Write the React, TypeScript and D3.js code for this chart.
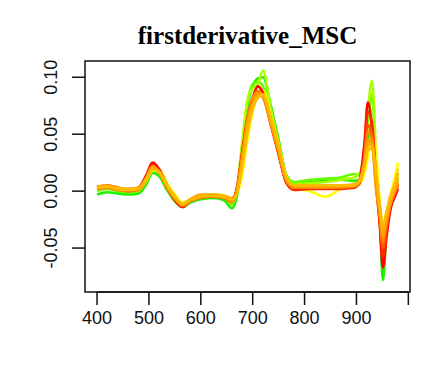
import React from 'react';
import * as d3 from 'd3';

// wavelengths (nm) shared by every spectrum
const wavelengths = [
    400, 420, 440, 460, 480, 495, 507, 520, 535, 550, 565, 580, 600, 625, 645, 660, 670, 680, 690, 700,
    710, 720, 735, 750, 765, 780, 810, 840, 870, 895, 905, 915, 922, 930, 938, 945, 951, 958, 966, 974, 980,
];

// first derivative after MSC, one array per sample
const green1 = [-0.003, -0.001, -0.002, -0.003, -0.002, 0.006, 0.016, 0.013, 0.001, -0.009, -0.014, -0.010, -0.007, -0.006, -0.008, -0.015, -0.004, 0.035, 0.075, 0.092, 0.099, 0.100, 0.075, 0.045, 0.014, 0.007, 0.008, 0.009, 0.010, 0.009, 0.010, 0.020, 0.040, 0.060, 0.010, -0.025, -0.078, -0.035, -0.012, -0.002, 0.005];
const green2 = [0.000, 0.002, 0.000, -0.001, 0.000, 0.009, 0.019, 0.016, 0.003, -0.007, -0.012, -0.008, -0.005, -0.004, -0.006, -0.012, 0.000, 0.040, 0.078, 0.094, 0.096, 0.092, 0.068, 0.040, 0.013, 0.008, 0.010, 0.011, 0.012, 0.015, 0.014, 0.030, 0.060, 0.085, 0.020, -0.015, -0.050, -0.028, -0.008, 0.002, 0.010];
const green3 = [0.001, 0.003, 0.001, 0.000, 0.001, 0.010, 0.020, 0.017, 0.004, -0.006, -0.011, -0.007, -0.004, -0.003, -0.005, -0.010, 0.003, 0.045, 0.080, 0.090, 0.094, 0.106, 0.072, 0.042, 0.012, 0.006, 0.007, 0.008, 0.010, 0.012, 0.015, 0.035, 0.070, 0.097, 0.030, -0.012, -0.035, -0.022, -0.005, 0.006, 0.015];
const yellow1 = [0.002, 0.003, 0.002, 0.001, 0.002, 0.009, 0.018, 0.018, 0.007, -0.003, -0.010, -0.008, -0.004, -0.003, -0.004, -0.007, -0.002, 0.015, 0.045, 0.070, 0.085, 0.088, 0.066, 0.040, 0.012, 0.003, 0.000, -0.005, 0.002, 0.004, 0.006, 0.015, 0.030, 0.050, 0.035, -0.012, -0.030, -0.018, -0.002, 0.012, 0.025];
const yellow2 = [0.003, 0.004, 0.003, 0.002, 0.003, 0.011, 0.020, 0.019, 0.006, -0.004, -0.011, -0.008, -0.004, -0.004, -0.004, -0.006, 0.000, 0.022, 0.052, 0.074, 0.084, 0.084, 0.064, 0.039, 0.012, 0.004, 0.003, 0.003, 0.004, 0.005, 0.007, 0.020, 0.038, 0.045, 0.010, -0.015, -0.036, -0.020, -0.004, 0.008, 0.020];
const red1 = [0.004, 0.005, 0.003, 0.001, 0.003, 0.014, 0.025, 0.019, 0.004, -0.008, -0.014, -0.008, -0.004, -0.004, -0.005, -0.007, 0.004, 0.035, 0.065, 0.082, 0.092, 0.086, 0.060, 0.033, 0.008, 0.002, 0.003, 0.003, 0.003, 0.003, 0.008, 0.040, 0.078, 0.055, 0.005, -0.030, -0.067, -0.040, -0.015, -0.005, 0.002];
const red2 = [0.003, 0.004, 0.002, 0.000, 0.002, 0.013, 0.023, 0.018, 0.003, -0.007, -0.013, -0.008, -0.005, -0.005, -0.006, -0.009, 0.001, 0.030, 0.062, 0.080, 0.088, 0.084, 0.058, 0.032, 0.007, 0.001, 0.002, 0.002, 0.002, 0.003, 0.006, 0.030, 0.070, 0.060, 0.010, -0.025, -0.058, -0.035, -0.012, -0.002, 0.006];
const red3 = [0.002, 0.003, 0.002, 0.001, 0.002, 0.011, 0.021, 0.017, 0.004, -0.006, -0.012, -0.008, -0.005, -0.004, -0.005, -0.008, 0.000, 0.026, 0.056, 0.076, 0.085, 0.083, 0.061, 0.036, 0.009, 0.003, 0.004, 0.004, 0.004, 0.004, 0.007, 0.025, 0.058, 0.050, 0.008, -0.022, -0.050, -0.030, -0.010, 0.000, 0.004];
const orange1 = [0.003, 0.004, 0.002, 0.001, 0.002, 0.012, 0.022, 0.016, 0.004, -0.006, -0.012, -0.007, -0.004, -0.004, -0.005, -0.008, 0.002, 0.030, 0.060, 0.078, 0.086, 0.082, 0.060, 0.035, 0.010, 0.004, 0.004, 0.004, 0.004, 0.005, 0.008, 0.025, 0.045, 0.040, 0.000, -0.020, -0.040, -0.025, -0.010, 0.000, 0.008];
const orange2 = [0.004, 0.005, 0.003, 0.002, 0.003, 0.011, 0.020, 0.017, 0.005, -0.005, -0.011, -0.007, -0.003, -0.003, -0.004, -0.007, 0.000, 0.024, 0.055, 0.075, 0.084, 0.084, 0.063, 0.038, 0.011, 0.005, 0.005, 0.005, 0.005, 0.006, 0.009, 0.022, 0.040, 0.042, 0.012, -0.015, -0.035, -0.022, -0.006, 0.004, 0.012];
const orange3 = [0.002, 0.003, 0.001, 0.000, 0.001, 0.010, 0.020, 0.016, 0.003, -0.007, -0.013, -0.009, -0.006, -0.005, -0.006, -0.010, 0.001, 0.032, 0.064, 0.082, 0.088, 0.083, 0.059, 0.034, 0.009, 0.003, 0.003, 0.003, 0.003, 0.004, 0.007, 0.028, 0.052, 0.045, 0.005, -0.022, -0.045, -0.028, -0.011, -0.001, 0.005];
const orange4 = [0.003, 0.004, 0.002, 0.001, 0.002, 0.010, 0.019, 0.017, 0.005, -0.005, -0.011, -0.008, -0.005, -0.004, -0.005, -0.008, -0.001, 0.022, 0.052, 0.072, 0.082, 0.085, 0.065, 0.040, 0.012, 0.005, 0.005, 0.005, 0.005, 0.005, 0.008, 0.020, 0.036, 0.038, 0.015, -0.012, -0.030, -0.018, -0.004, 0.006, 0.016];

const xTicks = [400, 500, 600, 700, 800, 900, 1000];
const xTickLabels = ['400', '500', '600', '700', '800', '900', ''];
const yTicks = [-0.05, 0, 0.05, 0.1];
const yTickLabels = ['-0.05', '0.00', '0.05', '0.10'];
const title = 'firstderivative_MSC';

// drawing order: greens underneath, oranges on top
const spectra = [
    { values: green1, color: '#22ee00' },
    { values: green2, color: '#66ff00' },
    { values: green3, color: '#aaff00' },
    { values: yellow1, color: '#ffff00' },
    { values: yellow2, color: '#ffdd00' },
    { values: red1, color: '#ff0000' },
    { values: red2, color: '#ff2a00' },
    { values: red3, color: '#ff5500' },
    { values: orange3, color: '#ff8000' },
    { values: orange1, color: '#ff9900' },
    { values: orange2, color: '#ffaa00' },
    { values: orange4, color: '#ffbb00' },
];

const W = 436, H = 368;
const box = { left: 85, right: 410, top: 61, bottom: 292 };

export default function App() {
    // R style 4% padding around the data range
    const x = d3.scaleLinear().domain([376.8, 1003.2]).range([box.left, box.right]);
    const y = d3.scaleLinear().domain([-0.0886, 0.1143]).range([box.bottom, box.top]);

    const line = d3.line<number>()
        .x((_, i) => x(wavelengths[i]))
        .y(d => y(d))
        .curve(d3.curveMonotoneX);

    const axisFont = '"Liberation Sans", Arial, sans-serif';

    return (
        <svg width={W} height={H} style={{ position: 'absolute', left: 0, top: 0, background: '#fff' }}>
            <text x={(box.left + box.right) / 2} y={44} textAnchor="middle"
                fontFamily='"Liberation Serif", "Times New Roman", serif' fontWeight="bold" fontSize={25}>
                {title}
            </text>

            <defs>
                <clipPath id="plotArea">
                    <rect x={box.left} y={box.top} width={box.right - box.left} height={box.bottom - box.top} />
                </clipPath>
            </defs>

            <g clipPath="url(#plotArea)" fill="none" strokeWidth={2.6} strokeLinejoin="round">
                {spectra.map((s, i) => (
                    <path key={i} d={line(s.values) || ''} stroke={s.color} />
                ))}
            </g>

            <rect x={box.left} y={box.top} width={box.right - box.left} height={box.bottom - box.top}
                fill="none" stroke="#111" strokeWidth={1.5} />

            {/* x axis */}
            <line x1={x(xTicks[0])} x2={x(xTicks[xTicks.length - 1])} y1={box.bottom} y2={box.bottom}
                stroke="#111" strokeWidth={1.5} />
            {xTicks.map((t, i) => (
                <g key={t} transform={`translate(${x(t)},${box.bottom})`}>
                    <line y2={13} stroke="#111" strokeWidth={1.5} />
                    <text y={19} dy="0.71em" textAnchor="middle" fontFamily={axisFont} fontSize={18} fill="#111">
                        {xTickLabels[i]}
                    </text>
                </g>
            ))}

            {/* y axis */}
            {yTicks.map((t, i) => (
                <g key={t} transform={`translate(${box.left},${y(t)})`}>
                    <line x2={-13} stroke="#111" strokeWidth={1.5} />
                    <text transform="translate(-28,0) rotate(-90)" textAnchor="middle"
                        fontFamily={axisFont} fontSize={18} fill="#111">
                        {yTickLabels[i]}
                    </text>
                </g>
            ))}
        </svg>
    );
}
